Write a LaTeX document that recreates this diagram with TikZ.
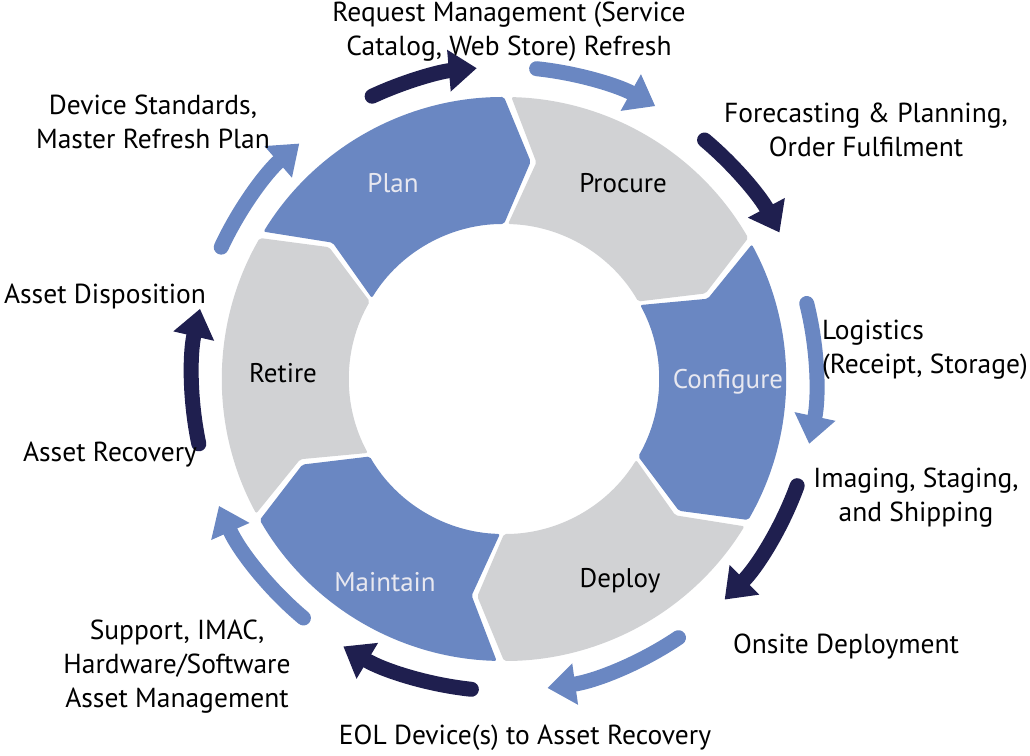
\documentclass[tikz,border=0pt]{standalone}
\usepackage{fontspec}
\setmainfont{PT Sans}
\usetikzlibrary{arrows.meta}
\definecolor{segblue}{HTML}{6A87C2}
\definecolor{seggray}{HTML}{D1D2D4}
\definecolor{darkarr}{HTML}{1F1F4F}
\definecolor{lighttxt}{HTML}{E8E8F0}
\begin{document}
\begin{tikzpicture}[x=1pt,y=1pt,
  seg/.style={rounded corners=2pt},
  arr/.style={line width=15pt,line cap=round,-{Triangle[width=40pt,length=28pt]}},
  lab/.style={font=\fontsize{27.5}{34}\selectfont,align=center,inner sep=0pt},
  slab/.style={font=\fontsize{27}{30}\selectfont,inner sep=0pt}]
\useasboundingbox (0,0) rectangle (1030,755);
\coordinate (c) at (504,376);
\def\R{282pt}\def\r{155pt}\def\Rm{219pt}
% segments
\foreach \a/\col/\nm in {150/segblue/plan,90/seggray/procure,30/segblue/configure,-30/seggray/deploy,-90/segblue/maintain,-150/seggray/retire}{
  \pgfmathsetmacro{\b}{\a-60}
  \pgfmathsetmacro{\ag}{\a-1.5}
  \pgfmathsetmacro{\bt}{\b-7}
  \pgfmathsetmacro{\an}{\a-8.5}
  \fill[seg,\col] ([shift={(c)}]\ag:\R) arc[start angle=\ag,end angle=\b,radius=\R]
    -- ([shift={(c)}]\bt:\Rm) -- ([shift={(c)}]\b:\r)
    arc[start angle=\b,end angle=\ag,radius=\r]
    -- ([shift={(c)}]\an:\Rm) -- cycle;
}
% outer arrows
\foreach \s/\e/\col [count=\i] in {115/95/darkarr,84/61/segblue,50/28/darkarr,14/-12/segblue,-20/-45/darkarr,-56/-82/segblue,-96/-121/darkarr,-130/-156/segblue,192/167/darkarr,155/131/segblue}{
  \draw[arr,\col] ([shift={(c)}]\s:312pt) arc[start angle=\s,end angle=\e,radius=312pt];
}
% segment labels
\node[slab,text=lighttxt] (plan) at (393,572) {Plan};
\node[slab] (procure) at (623,572) {Procure};
\node[slab,text=lighttxt] (configure) at (728,373) {Configure};
\node[slab] (deploy) at (620,174) {Deploy};
\node[slab,text=lighttxt] (maintain) at (385,173) {Maintain};
\node[slab] (retire) at (283,382) {Retire};
% outer labels
\node[lab] (l1) at (509,723) {Request Management (Service\\Catalog, Web Store) Refresh};
\node[lab] (l2) at (866,625) {Forecasting \& Planning,\\Order Fulfilment};
\node[lab,align=left,anchor=west] (l3) at (822,405) {Logistics\\(Receipt, Storage)};
\node[lab] (l4) at (916,257) {Imaging, Staging,\\and Shipping};
\node[lab] (l5) at (846,108) {Onsite Deployment};
\node[lab] (l6) at (525,17) {EOL Device(s) to Asset Recovery};
\node[lab] (l7) at (177,88) {Support, IMAC,\\Hardware/Software\\Asset Management};
\node[lab] (l8) at (110,300) {Asset Recovery};
\node[lab] (l9) at (105,459) {Asset Disposition};
\node[lab] (l10) at (153,633) {Device Standards,\\Master Refresh Plan};
\end{tikzpicture}
\end{document}
